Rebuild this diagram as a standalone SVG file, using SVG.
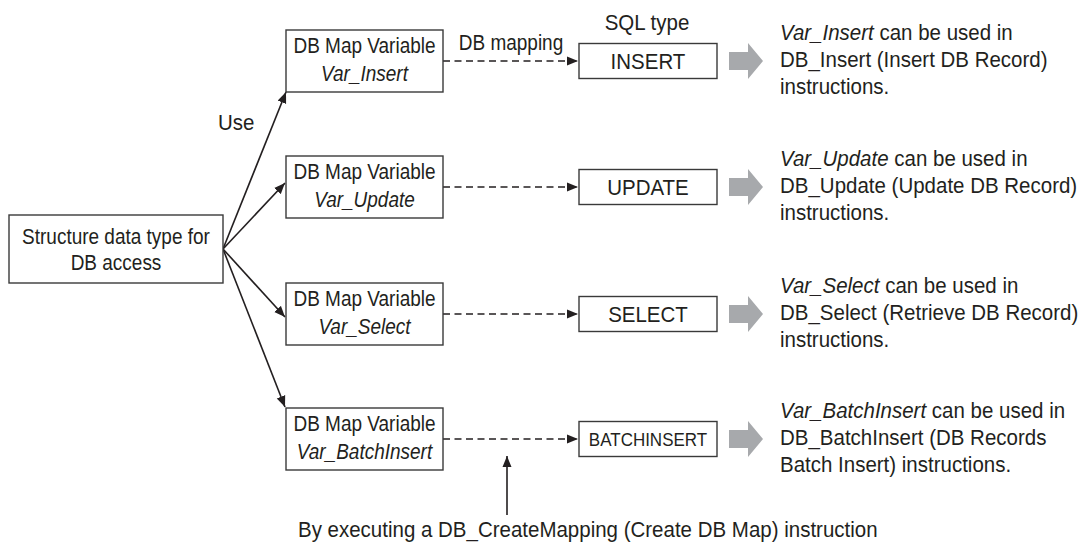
<svg xmlns="http://www.w3.org/2000/svg" width="1087" height="551" viewBox="0 0 1087 551">
<defs>
<marker id="ah" viewBox="0 0 11 10" refX="11" refY="5" markerWidth="11" markerHeight="10" markerUnits="userSpaceOnUse" orient="auto">
<path d="M0,0.5 L11,5 L0,9.5 Z" fill="#231f20"/>
</marker>
<style>
.box{fill:#fff;stroke:#3a3a3a;stroke-width:1.4}
.t{font-family:"Liberation Sans",Arial,sans-serif;fill:#231f20}
.b{font-size:19px}
.f{font-size:20.5px}
.i{font-style:italic}
.c{text-anchor:middle}
.ln{stroke:#231f20;stroke-width:1.6;fill:none}
.dash{stroke:#231f20;stroke-width:1.6;fill:none;stroke-dasharray:7 4.5}
.ga{fill:#a7a9ac}
</style>
</defs>
<rect width="1087" height="551" fill="#fff"/>

<g id="connectors">
<line class="ln" x1="223" y1="249" x2="286" y2="92" marker-end="url(#ah)"/>
<line class="ln" x1="223" y1="249" x2="285" y2="183" marker-end="url(#ah)"/>
<line class="ln" x1="223" y1="249" x2="285" y2="317" marker-end="url(#ah)"/>
<line class="ln" x1="223" y1="249" x2="285" y2="407" marker-end="url(#ah)"/>
<line class="dash" x1="443" y1="61" x2="578" y2="61" marker-end="url(#ah)"/>
<line class="dash" x1="443" y1="187" x2="578" y2="187" marker-end="url(#ah)"/>
<line class="dash" x1="443" y1="314" x2="578" y2="314" marker-end="url(#ah)"/>
<line class="dash" x1="443" y1="439" x2="578" y2="439" marker-end="url(#ah)"/>
<line class="ln" x1="507" y1="515" x2="507" y2="456" marker-end="url(#ah)"/>
<path class="ga" d="M729,52 H748 V43 L763,61 L748,79 V70 H729 Z"/>
<path class="ga" d="M729,178 H748 V169 L763,187 L748,205 V196 H729 Z"/>
<path class="ga" d="M729,305 H748 V296 L763,314 L748,332 V323 H729 Z"/>
<path class="ga" d="M729,430 H748 V421 L763,439 L748,457 V448 H729 Z"/>
<text class="t f" x="218" y="0" transform="translate(0,130) scale(1,1.12)">Use</text>
<text class="t b c" x="511" y="0" transform="translate(0,50) scale(1,1.12)">DB mapping</text>
</g>

<g id="source">
<rect class="box" x="9" y="215" width="214" height="68"/>
<text class="t b c" x="116" y="0" transform="translate(0,244) scale(1,1.12)">Structure data type for</text>
<text class="t b c" x="116" y="0" transform="translate(0,270) scale(1,1.12)">DB access</text>
</g>

<g id="var-insert">
<rect class="box" x="286" y="30" width="157" height="62"/>
<text class="t b c" x="364.5" y="0" transform="translate(0,53) scale(1,1.12)">DB Map Variable</text>
<text class="t b c i" x="364.5" y="0" transform="translate(0,81) scale(1,1.12)">Var_Insert</text>
</g>
<g id="var-update">
<rect class="box" x="286" y="156" width="157" height="62"/>
<text class="t b c" x="364.5" y="0" transform="translate(0,179) scale(1,1.12)">DB Map Variable</text>
<text class="t b c i" x="364.5" y="0" transform="translate(0,207) scale(1,1.12)">Var_Update</text>
</g>
<g id="var-select">
<rect class="box" x="286" y="283" width="157" height="62"/>
<text class="t b c" x="364.5" y="0" transform="translate(0,306) scale(1,1.12)">DB Map Variable</text>
<text class="t b c i" x="364.5" y="0" transform="translate(0,334) scale(1,1.12)">Var_Select</text>
</g>
<g id="var-batchinsert">
<rect class="box" x="286" y="408" width="157" height="62"/>
<text class="t b c" x="364.5" y="0" transform="translate(0,431) scale(1,1.12)">DB Map Variable</text>
<text class="t b c i" x="364.5" y="0" transform="translate(0,459) scale(1,1.12)">Var_BatchInsert</text>
</g>

<g id="sql-insert">
<text class="t f c" x="647" y="0" transform="translate(0,30) scale(1,1.12)">SQL type</text>
<rect class="box" x="579" y="43.5" width="138" height="35"/>
<text class="t f c" x="648" y="0" transform="translate(0,69) scale(1,1.12)">INSERT</text>
</g>
<g id="sql-update">
<rect class="box" x="579" y="169.5" width="138" height="35"/>
<text class="t f c" x="648" y="0" transform="translate(0,195) scale(1,1.12)">UPDATE</text>
</g>
<g id="sql-select">
<rect class="box" x="579" y="296.5" width="138" height="35"/>
<text class="t f c" x="648" y="0" transform="translate(0,322) scale(1,1.12)">SELECT</text>
</g>
<g id="sql-batchinsert">
<rect class="box" x="579" y="421.5" width="138" height="35"/>
<text class="t c" style="font-size:17px" x="648" y="0" transform="translate(0,445.5) scale(1,1.12)">BATCHINSERT</text>
</g>

<g id="desc-insert" class="t f">
<text x="780" y="0" transform="translate(0,40) scale(1,1.12)"><tspan class="i">Var_Insert</tspan> can be used in</text>
<text x="780" y="0" transform="translate(0,67) scale(1,1.12)">DB_Insert (Insert DB Record)</text>
<text x="780" y="0" transform="translate(0,94) scale(1,1.12)">instructions.</text>
</g>
<g id="desc-update" class="t f">
<text x="780" y="0" transform="translate(0,166) scale(1,1.12)"><tspan class="i">Var_Update</tspan> can be used in</text>
<text x="780" y="0" transform="translate(0,193) scale(1,1.12)">DB_Update (Update DB Record)</text>
<text x="780" y="0" transform="translate(0,220) scale(1,1.12)">instructions.</text>
</g>
<g id="desc-select" class="t f">
<text x="780" y="0" transform="translate(0,293) scale(1,1.12)"><tspan class="i">Var_Select</tspan> can be used in</text>
<text x="780" y="0" transform="translate(0,320) scale(1,1.12)">DB_Select (Retrieve DB Record)</text>
<text x="780" y="0" transform="translate(0,347) scale(1,1.12)">instructions.</text>
</g>
<g id="desc-batchinsert" class="t f">
<text x="780" y="0" transform="translate(0,418) scale(1,1.12)"><tspan class="i">Var_BatchInsert</tspan> can be used in</text>
<text x="780" y="0" transform="translate(0,445) scale(1,1.12)">DB_BatchInsert (DB Records</text>
<text x="780" y="0" transform="translate(0,472) scale(1,1.12)">Batch Insert) instructions.</text>
</g>

<g id="note">
<text class="t f" x="298" y="0" transform="translate(0,537) scale(1,1.12)">By executing a DB_CreateMapping (Create DB Map) instruction</text>
</g>
</svg>
